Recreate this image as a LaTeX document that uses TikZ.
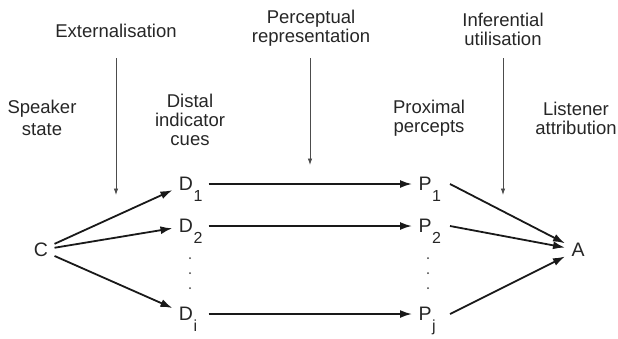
\documentclass[tikz,border=0pt]{standalone}
\usepackage{fontspec}
\setmainfont{Liberation Sans}
\usetikzlibrary{arrows.meta}
\newcommand{\subidx}[1]{\rlap{\kern0.5pt\raisebox{-11pt}[0pt][0pt]{\fontsize{16}{16}\selectfont #1}}}
\newcommand{\stack}[1]{\begin{tabular}[t]{@{}c@{}}#1\end{tabular}}
\begin{document}
\begin{tikzpicture}[x=1pt,y=-1pt,
  every node/.style={font=\fontsize{18.5}{19}\selectfont, text=black!85},
  lbl/.style={anchor=base, inner sep=0pt},
  var/.style={inner sep=4.5pt, outer sep=2pt, font=\fontsize{19.5}{20}\selectfont},
  flow/.style={line width=1.8pt, draw=black!90, -{Latex[length=12pt,width=8pt]}},
  influence/.style={line width=0.8pt, draw=black!70, -{Latex[length=6.5pt,width=4.5pt]}},
  ellipsisdot/.style={fill=black!75}
]
\useasboundingbox (0,0) rectangle (618,338);

% text labels
\node[lbl] (ext) at (116,37) {Externalisation};
\node[lbl] (perc) at (311,23) {\stack{Perceptual\\representation}};
\node[lbl] (infer) at (503,26) {\stack{Inferential\\utilisation}};
\node[lbl] (spk) at (42,113) {\stack{Speaker\\[3pt]state}};
\node[lbl] (distal) at (190,107) {\stack{Distal\\indicator\\cues}};
\node[lbl] (prox) at (429,113) {\stack{Proximal\\percepts}};
\node[lbl] (lis) at (576,115) {\stack{Listener\\attribution}};

% variables
\node[var] (C) at (41,250) {C};
\node[var] (D1) at (186,184) {D\subidx{1}};
\node[var] (D2) at (186,226) {D\subidx{2}};
\node[var] (Di) at (186,314) {D\subidx{i}};
\node[var] (P1) at (425,184) {P\subidx{1}};
\node[var] (P2) at (425,226) {P\subidx{2}};
\node[var] (Pj) at (425,314) {P\subidx{j}};
\node[var] (A) at (578,250) {A};

% ellipsis dots
\foreach \yy in {258,273,288}{
  \fill[ellipsisdot] (190,\yy) circle (1pt);
  \fill[ellipsisdot] (428,\yy) circle (1pt);
}

% process arrows
\coordinate (e1) at (116,58);  \coordinate (e2) at (116,195);
\coordinate (r1) at (310,58);  \coordinate (r2) at (310,165);
\coordinate (u1) at (503,58);  \coordinate (u2) at (503,195);
\draw[influence] (e1) -- (e2);
\draw[influence] (r1) -- (r2);
\draw[influence] (u1) -- (u2);

% lens model arrows
\draw[flow] (C) -- (D1);
\draw[flow] (C) -- (D2);
\draw[flow] (C) -- (Di);
\draw[flow] ([xshift=9pt]D1.east) -- (P1.west);
\draw[flow] ([xshift=9pt]D2.east) -- (P2.west);
\draw[flow] ([xshift=9pt]Di.east) -- (Pj.west);
\draw[flow] ([xshift=12pt]P1.east) -- (A);
\draw[flow] ([xshift=12pt]P2.east) -- (A);
\draw[flow] ([xshift=12pt]Pj.east) -- (A);
\end{tikzpicture}
\end{document}
